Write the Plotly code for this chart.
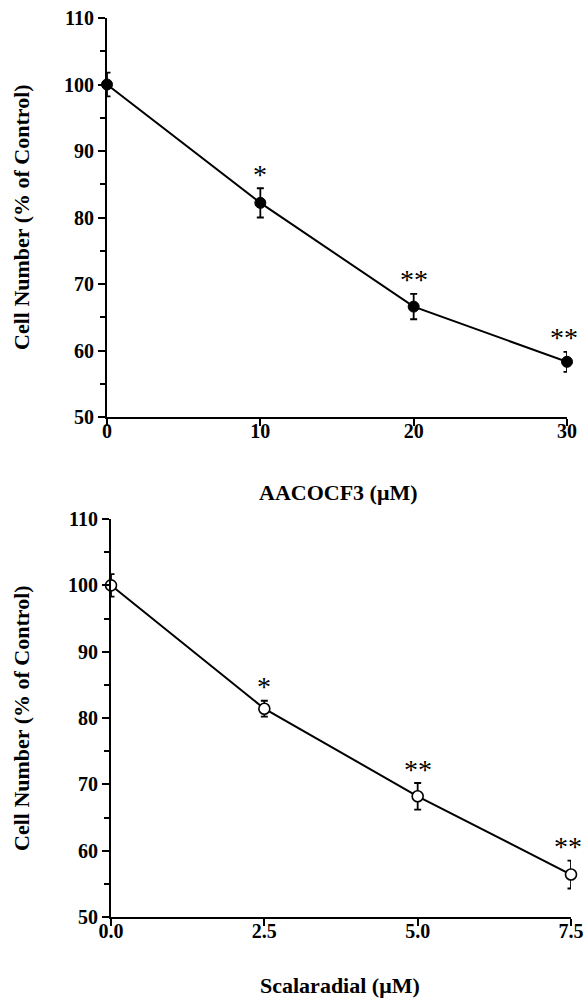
import plotly.graph_objects as go

# ---- data ----
aacocf3_conc = [0, 10, 20, 30]
aacocf3_mean = [100.0, 82.2, 66.6, 58.3]
aacocf3_err = [1.8, 2.2, 1.9, 1.5]
aacocf3_sig = ["", "*", "**", "**"]

scal_conc = [0.0, 2.5, 5.0, 7.5]
scal_mean = [100.0, 81.4, 68.2, 56.4]
scal_err = [1.7, 1.2, 2.0, 2.1]
scal_sig = ["", "*", "**", "**"]

y_ticks = [50, 60, 70, 80, 90, 100, 110]
x1_ticks = [0, 10, 20, 30]
x2_ticks = [0.0, 2.5, 5.0, 7.5]
x2_ticklabels = ["0.0", "2.5", "5.0", "7.5"]

FONT = "Liberation Serif"
W, H = 584, 999

fig = go.Figure()

fig.add_trace(go.Scatter(
    x=aacocf3_conc, y=aacocf3_mean, mode="lines+markers",
    line=dict(color="black", width=2),
    marker=dict(size=11, color="black", line=dict(color="black", width=1)),
    error_y=dict(type="data", array=aacocf3_err, visible=True,
                 color="black", thickness=1.8, width=3.5),
    cliponaxis=False, xaxis="x", yaxis="y", showlegend=False))

fig.add_trace(go.Scatter(
    x=scal_conc, y=scal_mean, mode="lines+markers",
    line=dict(color="black", width=2),
    marker=dict(size=11, color="white", line=dict(color="black", width=1.6)),
    error_y=dict(type="data", array=scal_err, visible=True,
                 color="black", thickness=1.8, width=3.5),
    cliponaxis=False, xaxis="x2", yaxis="y2", showlegend=False))

axis_common = dict(
    showline=True, linecolor="black", linewidth=2,
    ticks="outside", ticklen=7, tickwidth=2, tickcolor="black",
    showgrid=False, zeroline=False, automargin=False,
    ticklabeloverflow="allow",
    tickfont=dict(family=FONT, size=20, color="black", weight="bold"),
)

def py(p):  # page pixel -> paper y
    return 1 - p / H

def px(p):  # page pixel -> paper x
    return p / W

top_dom_y = [py(417), py(18)]
bot_dom_y = [py(917), py(519)]
top_dom_x = [px(107), px(567)]
bot_dom_x = [px(111), px(571)]

yaxis_extra = dict(
    range=[50, 110], tickvals=y_ticks,
    minor=dict(dtick=5, tick0=50, ticks="outside", ticklen=5,
               tickwidth=2, tickcolor="black", showgrid=False),
)

fig.update_layout(
    template="none",
    width=W, height=H,
    margin=dict(l=0, r=0, t=0, b=0, autoexpand=False),
    paper_bgcolor="white", plot_bgcolor="white",
    xaxis=dict(domain=top_dom_x, range=[0, 30], tickvals=x1_ticks,
               anchor="y", ticklabelstandoff=-12, **axis_common),
    yaxis=dict(domain=top_dom_y, anchor="x", **yaxis_extra, **axis_common),
    xaxis2=dict(domain=bot_dom_x, range=[0, 7.5], tickvals=x2_ticks,
                ticktext=x2_ticklabels, anchor="y2", ticklabelstandoff=-12,
                **axis_common),
    yaxis2=dict(domain=bot_dom_y, anchor="x2", **yaxis_extra, **axis_common),
)

annotations = []
star_font = dict(family=FONT, size=28, color="black")
for conc, mean, err, sig, xr, yr in [
    (aacocf3_conc, aacocf3_mean, aacocf3_err, aacocf3_sig, "x", "y"),
    (scal_conc, scal_mean, scal_err, scal_sig, "x2", "y2"),
]:
    for i, (xv, m, e, s) in enumerate(zip(conc, mean, err, sig)):
        if s:
            annotations.append(dict(
                x=xv, y=m + e, xref=xr, yref=yr, text=s,
                showarrow=False, yanchor="middle", yshift=14,
                xshift=-3 if i == len(conc) - 1 else 0,
                font=star_font))

title_font = dict(family=FONT, size=22, color="black", weight="bold")
annotations.append(dict(x=px(338), y=py(492),
                        xref="paper", yref="paper", text="AACOCF3 (μM)",
                        showarrow=False, xanchor="center", yanchor="middle",
                        font=title_font))
annotations.append(dict(x=px(340), y=py(985),
                        xref="paper", yref="paper", text="Scalaradial (μM)",
                        showarrow=False, xanchor="center", yanchor="middle",
                        font=title_font))
annotations.append(dict(x=px(21), y=py(217),
                        xref="paper", yref="paper",
                        text="Cell Number (% of Control)", textangle=-90,
                        showarrow=False, xanchor="center", yanchor="middle",
                        font=title_font))
annotations.append(dict(x=px(21), y=py(718),
                        xref="paper", yref="paper",
                        text="Cell Number (% of Control)", textangle=-90,
                        showarrow=False, xanchor="center", yanchor="middle",
                        font=title_font))
fig.update_layout(annotations=annotations)

fig.write_html("out.html", config={"displayModeBar": False},
               post_script="document.body.style.margin='0';")
